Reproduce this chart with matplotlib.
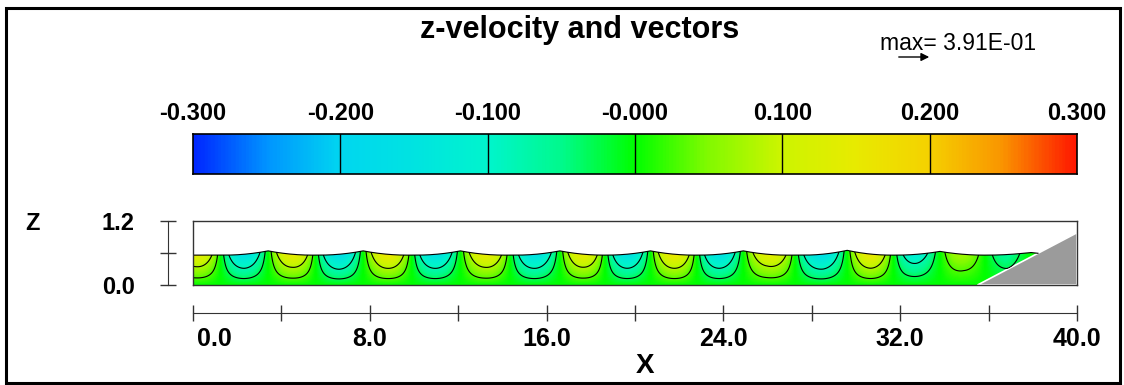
import numpy as np
import matplotlib
matplotlib.use("Agg")
import matplotlib.pyplot as plt
from matplotlib.colors import LinearSegmentedColormap, Normalize
from matplotlib.patches import Polygon, Rectangle
from matplotlib.transforms import ScaledTranslation

plt.rcParams['font.family'] = ['Liberation Sans', 'DejaVu Sans']

# wave crests along the flume: position, height above still water
crestX = [3.4, 7.7, 12.1, 16.6, 20.7, 24.9, 29.6, 33.8, 37.9]
crestH = [0.08, 0.08, 0.08, 0.08, 0.08, 0.08, 0.09, 0.07, 0.05]
# peak z-velocity at the surface in the lobe behind / ahead of each crest
downW = [-0.16, -0.17, -0.16, -0.16, -0.16, -0.16, -0.17, -0.12, -0.06]
upW = [0.15, 0.16, 0.15, 0.15, 0.16, 0.14, 0.16, 0.07, 0.0]
leadW = 0.14          # partial lobe at the inflow boundary
stillDepth = 0.56
waveLength = 4.3

# beach slope: toe and height at the end of the domain
slopeToe = 35.5
slopeTop = 0.98

contourLevels = [-0.08, -0.03, 0.03, 0.08]
cbarTicks = [-0.3, -0.2, -0.1, 0.0, 0.1, 0.2, 0.3]
cbarLabels = ["-0.300", "-0.200", "-0.100", "-0.000", "0.100", "0.200", "0.300"]
xTicks = [0, 8, 16, 24, 32, 40]
xMinor = [4, 12, 20, 28, 36]
zTicks = [0.0, 0.6, 1.2]
zLabels = ["0.0", "", "1.2"]
maxVector = 0.391

W, H = 1124, 385

# tecplot style rainbow
cmapNodes = [(-0.3, (0, 40, 255)), (-0.25, (0, 150, 255)), (-0.2, (0, 215, 240)),
             (-0.15, (0, 228, 225)), (-0.1, (0, 245, 205)), (-0.05, (0, 250, 140)),
             (0.0, (0, 255, 0)), (0.05, (130, 250, 0)), (0.1, (205, 245, 0)),
             (0.15, (232, 235, 0)), (0.2, (245, 210, 0)), (0.25, (250, 150, 0)),
             (0.3, (255, 25, 0))]
cmap = LinearSegmentedColormap.from_list(
    "tec", [((v + 0.3) / 0.6, tuple(c / 255 for c in rgb)) for v, rgb in cmapNodes])
norm = Normalize(-0.3, 0.3)


def surface(x):
    eta = np.full_like(x, stillDepth)
    for c, h in zip(crestX, crestH):
        d = np.clip(1 - np.abs(x - c) / 2.0, 0, None)
        eta += h * d**2
    return eta


def slopeZ(x):
    return (x - slopeToe) * slopeTop / (40 - slopeToe)


def zVelocity(X, Z, eta):
    ext = [crestX[0] - waveLength] + crestX + [crestX[-1] + waveLength]
    phase = np.interp(X[0], ext, 2 * np.pi * np.arange(len(ext)))
    centers = [crestX[0] - 0.75 * waveLength]
    amps = [leadW]
    for c, dn, up in zip(crestX, downW, upW):
        centers += [c - waveLength / 4, c + waveLength / 4]
        amps += [abs(dn), abs(up)]
    amp = np.interp(X[0], centers, amps)
    k = 2 * np.pi / waveLength
    zz = np.minimum(Z, eta[None, :])
    prof = np.sinh(k * zz) / np.sinh(k * eta[None, :])
    return amp[None, :] * np.sin(phase)[None, :] * prof


fig = plt.figure(figsize=(W / 100, H / 100), dpi=100)

# field axes
ax = fig.add_axes([193 / W, 1 - 285 / H, 884 / W, 64 / H])
xs = np.linspace(0, 40, 1201)
zs = np.linspace(0, 1.2, 301)
X, Z = np.meshgrid(xs, zs)
eta = surface(xs)
w = zVelocity(X, Z, eta)

wet = slopeZ(xs) < eta
xe = xs[np.argmax(~wet & (xs > slopeToe))]
keep = xs <= xe
waterPts = list(zip(xs[keep], eta[keep])) + [(slopeToe, 0), (0, 0)]
water = Polygon(waterPts, closed=True, transform=ax.transData)

mesh = ax.pcolormesh(X, Z, w, cmap=cmap, norm=norm, shading='gouraud')
mesh.set_clip_path(water)
cs = ax.contour(X, Z, w, levels=contourLevels, colors='k', linewidths=0.8,
                linestyles='solid')
cs.set_clip_path(water)
ax.plot(xs[keep], eta[keep], color='k', lw=0.8)
ax.add_patch(Polygon([(slopeToe, 0), (40, slopeTop), (40, 0)], closed=True,
                     facecolor='#9b9b9b', edgecolor='white', lw=1.2))
ax.set_xlim(0, 40)
ax.set_ylim(0, 1.2)
ax.set_xticks([])
ax.set_yticks([])
for s in ax.spines.values():
    s.set_color('#333333')
    s.set_linewidth(1.0)

# colour bar
cax = fig.add_axes([193 / W, 1 - 174 / H, 884 / W, 40 / H])
grad = np.linspace(-0.3, 0.3, 600)[None, :]
cax.imshow(grad, cmap=cmap, norm=norm, aspect='auto', extent=[-0.3, 0.3, 0, 1])
for t in cbarTicks[1:-1]:
    cax.axvline(t, color='k', lw=1)
cax.set_xlim(-0.3, 0.3)
cax.set_xticks([])
cax.set_yticks([])
for s in cax.spines.values():
    s.set_linewidth(1.2)
for t, lab in zip(cbarTicks, cbarLabels):
    fig.text((193 + 884 * (t + 0.3) / 0.6) / W, 1 - 113 / H, lab, ha='center',
             va='center', fontsize=17, fontweight='bold')

# x axis drawn below the field
xax = fig.add_axes([193 / W, 1 - 313 / H, 884 / W, 0.0001])
xax.set_xlim(0, 40)
for side in ['top', 'left', 'right']:
    xax.spines[side].set_visible(False)
xax.spines['bottom'].set_color('#333333')
xax.set_yticks([])
xax.set_xticks(xTicks)
xax.set_xticklabels(["%.1f" % v for v in xTicks])
xax.set_xticks(xMinor, minor=True)
xax.tick_params(axis='x', which='both', direction='inout', length=12, width=1,
                color='#333333', labelsize=18, pad=4)
for lab in xax.get_xticklabels():
    lab.set_fontweight('bold')
first = xax.get_xticklabels()[0]
first.set_horizontalalignment('left')
first.set_transform(first.get_transform() + ScaledTranslation(4 / 100, 0, fig.dpi_scale_trans))
fig.text(645 / W, 1 - 366 / H, "X", ha='center', va='center', fontsize=20, fontweight='bold')

# z axis drawn left of the field
zax = fig.add_axes([168 / W, 1 - 285 / H, 0.0001, 64 / H])
zax.set_ylim(0, 1.2)
for side in ['top', 'bottom', 'right']:
    zax.spines[side].set_visible(False)
zax.spines['left'].set_color('#333333')
zax.set_xticks([])
zax.set_yticks(zTicks)
zax.set_yticklabels(zLabels)
zax.tick_params(axis='y', direction='inout', length=12, width=1, color='#333333',
                labelsize=17, pad=18)
for lab in zax.get_yticklabels():
    lab.set_fontweight('bold')
fig.text(32 / W, 1 - 224 / H, "Z", ha='center', va='center', fontsize=17, fontweight='bold')

# titles and reference vector
fig.text(580 / W, 1 - 30 / H, "z-velocity and vectors", ha='center', va='center',
         fontsize=22, fontweight='bold')
fig.text(880 / W, 1 - 43 / H, "max= %.2E" % maxVector, ha='left', va='center', fontsize=16.5)
plt.annotate('', xy=(932 / W, 1 - 57 / H), xytext=(896 / W, 1 - 57 / H),
             xycoords='figure fraction', textcoords='figure fraction',
             arrowprops=dict(arrowstyle='-|>', color='k', lw=1, mutation_scale=12))

# outer frame
fig.add_artist(Rectangle((6 / W, 1 - 383 / H), 1114 / W, 375 / H, transform=fig.transFigure,
                         fill=False, lw=2.2, edgecolor='k'))

fig.savefig("out.png", dpi=100)
